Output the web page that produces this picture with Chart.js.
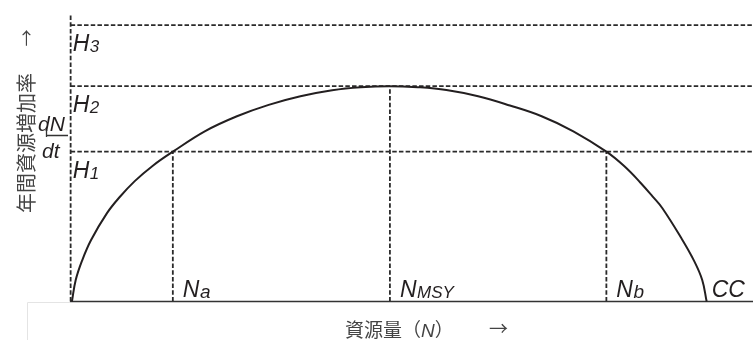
<!DOCTYPE html>
<html>
<head>
<meta charset="utf-8">
<script src="https://cdn.jsdelivr.net/npm/chart.js@4"></script>
<style>
html,body{margin:0;padding:0;background:#fff;}
canvas{display:block;}
</style>
</head>
<body>
<canvas id="c" width="753" height="340"></canvas>
<script>
// Resource size N (CC = 100) and annual increase rate dN/dt (MSY = 10)
const curveN    = [0, 0.6, 1.6, 3, 5.5, 7.5, 9.9, 12.8, 15.9, 21, 26, 31, 36, 41, 45.5, 50, 54.5, 59, 64, 69, 74, 79, 84.2, 87, 89.5, 91.5, 93, 96, 98, 99.3, 100];
const curveRate = [0, 1.0, 1.9, 2.85, 4.1, 4.85, 5.6, 6.33, 6.97, 7.93, 8.62, 9.15, 9.55, 9.83, 9.97, 10.02, 9.97, 9.84, 9.55, 9.12, 8.62, 7.92, 6.97, 6.3, 5.55, 4.88, 4.35, 2.95, 1.9, 1.0, 0];

// Harvest levels H1, H2, H3
const hLevels = [6.97, 10.02, 12.86];
const hSubs   = ['1', '2', '3'];

// Marked stock sizes
const nMarks  = [15.9, 50.1, 84.2];
const nTops   = [6.97, 10.02, 6.97];
const nSubs   = ['a', 'MSY', 'b'];
const ccValue = 100;

const xMin = -0.3, xMax = 107.3, yMin = 0, yMax = 13.33;
const axisX = -0.2;

const ink = '#231f20';
const dashInk = '#2a2a2a';
const dash = [4.5, 2.2];

const datasets = [];
// curve
datasets.push({
  data: curveN.map((n, i) => ({x: n, y: curveRate[i]})),
  borderColor: ink, borderWidth: 2, pointRadius: 0,
  tension: 0.4, clip: false
});
// baseline
datasets.push({
  data: [{x: xMin, y: 0}, {x: xMax, y: 0}],
  borderColor: '#333', borderWidth: 1.6, pointRadius: 0, clip: false
});
// left dashed axis
datasets.push({
  data: [{x: axisX, y: 0}, {x: axisX, y: yMax}],
  borderColor: dashInk, borderWidth: 1.8, borderDash: dash, pointRadius: 0, clip: false
});
// horizontal harvest lines
hLevels.forEach(h => datasets.push({
  data: [{x: axisX, y: h}, {x: xMax, y: h}],
  borderColor: dashInk, borderWidth: 1.8, borderDash: dash, pointRadius: 0, clip: false
}));
// vertical drop lines
nMarks.forEach((n, i) => datasets.push({
  data: [{x: n, y: 0}, {x: n, y: nTops[i]}],
  borderColor: dashInk, borderWidth: 1.8, borderDash: dash, pointRadius: 0, clip: false
}));

function subLabel(ctx, main, sub, x, baseY, mainSize, subSize) {
  ctx.font = 'italic ' + mainSize + 'px "Liberation Sans", Arial, sans-serif';
  ctx.fillText(main, x, baseY);
  const w = ctx.measureText(main).width;
  ctx.font = 'italic ' + subSize + 'px "Liberation Sans", Arial, sans-serif';
  ctx.fillText(sub, x + w + 0.5, baseY + 1);
}

const labelsPlugin = {
  id: 'labels',
  afterDatasetsDraw(chart) {
    const ctx = chart.ctx;
    const xs = chart.scales.x, ys = chart.scales.y;
    ctx.save();
    ctx.fillStyle = ink;
    ctx.textBaseline = 'alphabetic';
    ctx.textAlign = 'left';
    const left = xs.getPixelForValue(axisX) + 2;
    // H labels
    hLevels.forEach((h, i) => {
      const py = ys.getPixelForValue(h);
      subLabel(ctx, 'H', hSubs[i], left, py + 26, 23, 17);
    });
    // N labels
    const base = ys.getPixelForValue(0) - 5;
    nMarks.forEach((n, i) => {
      const px = xs.getPixelForValue(n) + 10;
      subLabel(ctx, 'N', nSubs[i], px, base, 23, i === 1 ? 17 : 19);
    });
    ctx.font = 'italic 23px "Liberation Sans", Arial, sans-serif';
    ctx.fillText('CC', xs.getPixelForValue(ccValue) + 5, base);

    // dN/dt fraction
    ctx.font = 'italic 21px "Liberation Sans", Arial, sans-serif';
    ctx.fillText('dN', 38, 131);
    ctx.fillText('dt', 42, 158);
    ctx.strokeStyle = '#333';
    ctx.lineWidth = 1.3;
    ctx.beginPath();
    ctx.moveTo(46.5, 130); ctx.lineTo(46.5, 137);
    ctx.moveTo(46.5, 135.5); ctx.lineTo(68, 135.5);
    ctx.stroke();

    // Y title
    ctx.fillStyle = '#444';
    ctx.save();
    ctx.translate(26, 143);
    ctx.rotate(-Math.PI / 2);
    ctx.textAlign = 'center';
    ctx.textBaseline = 'middle';
    ctx.font = '20px "Noto Sans CJK JP", sans-serif';
    ctx.fillText('年間資源増加率', 0, 0);
    ctx.restore();
    ctx.save();
    ctx.translate(27, 38);
    ctx.rotate(-Math.PI / 2);
    ctx.textAlign = 'center';
    ctx.textBaseline = 'middle';
    ctx.font = '17px "Noto Sans CJK JP", sans-serif';
    ctx.fillText('→', 0, 0);
    ctx.restore();

    // X title
    ctx.textAlign = 'left';
    ctx.textBaseline = 'alphabetic';
    let x = 345;
    const by = 337;
    ctx.font = '19px "Noto Sans CJK JP", sans-serif';
    ctx.fillText('資源量（', x, by);
    x += ctx.measureText('資源量（').width;
    ctx.font = 'italic 19px "Liberation Sans", Arial, sans-serif';
    ctx.fillText('N', x, by);
    x += ctx.measureText('N').width;
    ctx.font = '19px "Noto Sans CJK JP", sans-serif';
    ctx.fillText('）', x, by);
    ctx.fillText('→', 489, by - 1);

    // faint frame
    ctx.strokeStyle = '#e4e4e4';
    ctx.lineWidth = 1;
    ctx.beginPath();
    ctx.moveTo(27.5, 340); ctx.lineTo(27.5, 302.5); ctx.lineTo(70, 302.5);
    ctx.stroke();
    ctx.restore();
  }
};

new Chart(document.getElementById('c'), {
  type: 'line',
  data: { datasets },
  options: {
    responsive: false,
    animation: false,
    devicePixelRatio: 1,
    layout: { padding: { left: 70, right: 0, top: 15, bottom: 38.5 } },
    plugins: { legend: { display: false }, tooltip: { enabled: false } },
    scales: {
      x: { type: 'linear', min: xMin, max: xMax, display: false },
      y: { type: 'linear', min: yMin, max: yMax, display: false }
    }
  },
  plugins: [labelsPlugin]
});
</script>
</body>
</html>
